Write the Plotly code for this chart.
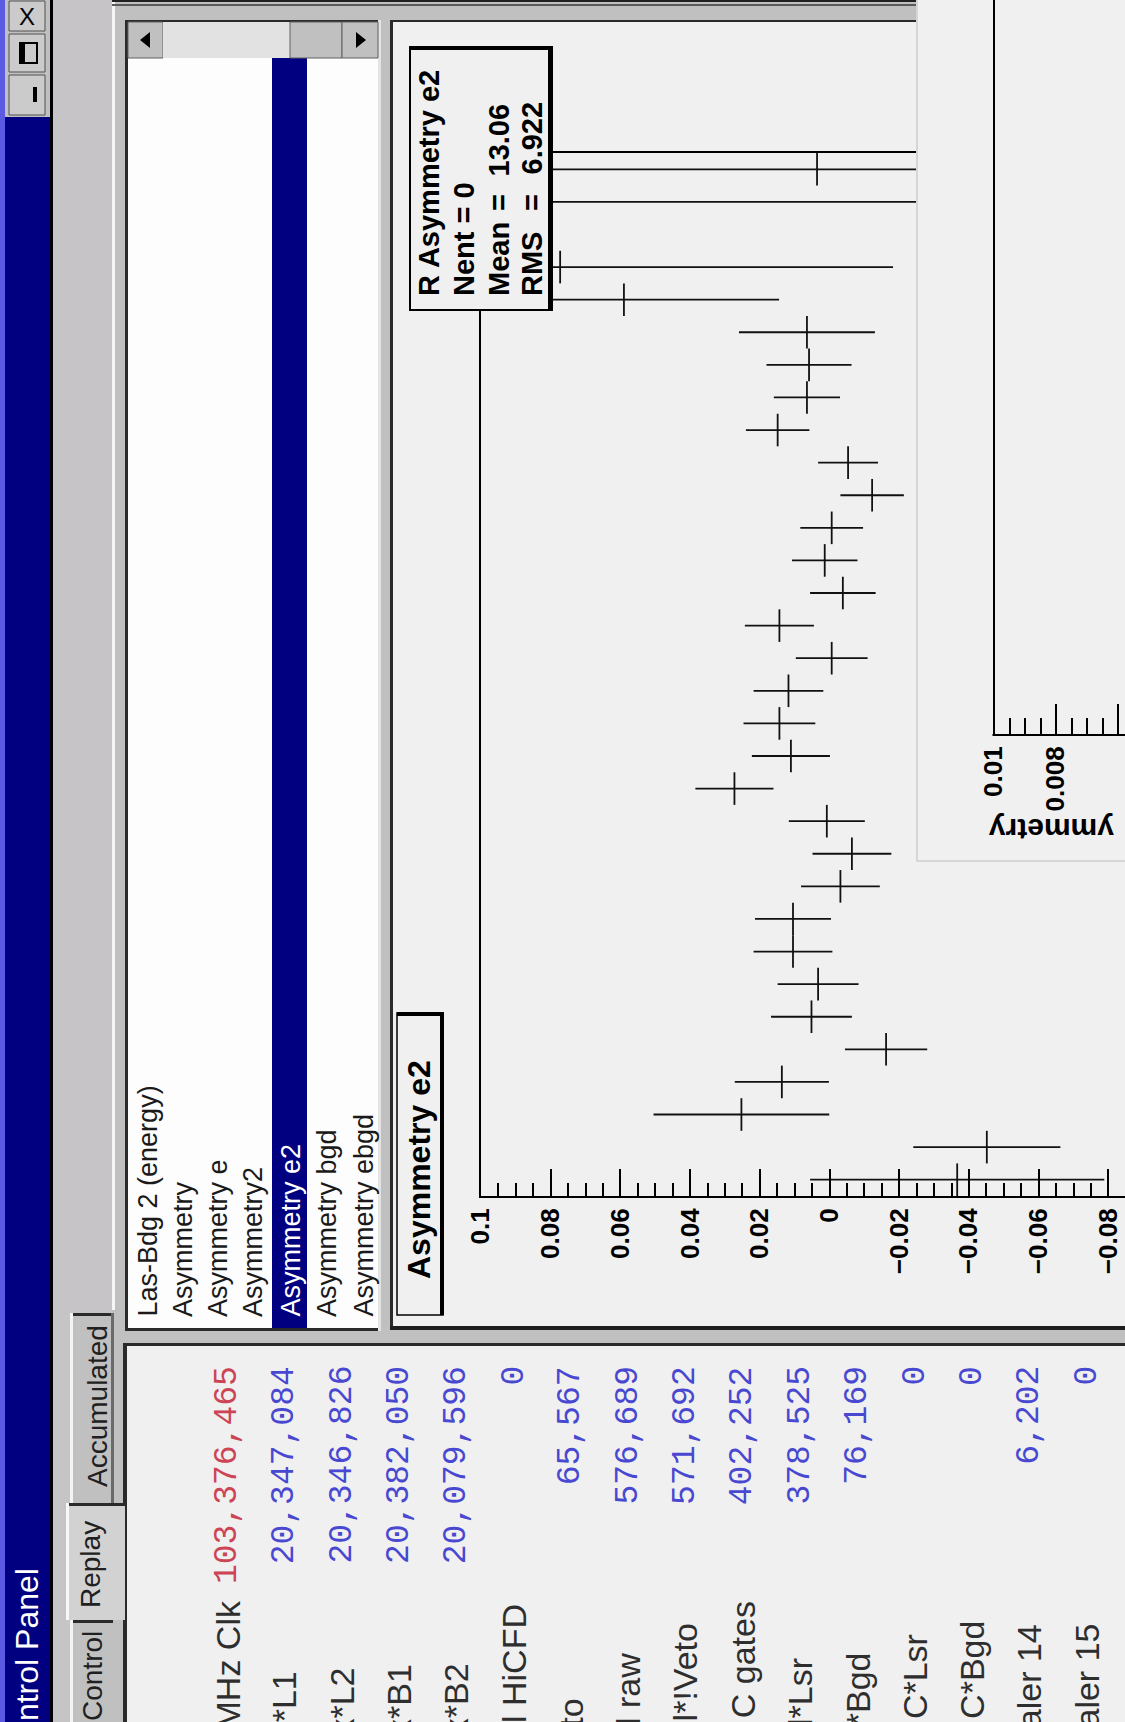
import plotly.graph_objects as go

# ---------------------------------------------------------------- data
bin_centers = [0.5, 1.5, 2.5, 3.5, 4.5, 5.5, 6.5, 7.5, 8.5, 9.5, 10.5, 11.5,
               12.5, 13.5, 14.5, 15.5, 16.5, 17.5, 18.5, 19.5, 20.5, 21.5,
               22.5, 23.5, 24.5, 25.5, 26.5, 27.5, 28.5, 29.5, 30.5, 31.5]
asymmetry = [-0.0366, -0.0451, 0.0253, 0.0137, -0.0162, 0.0052, 0.0033, 0.0105,
             0.0105, -0.0031, -0.0064, 0.0008, 0.0273, 0.0111, 0.0144, 0.0118,
             -0.0006, 0.0144, -0.0038, 0.0014, -0.0006, -0.0122, -0.0053, 0.0149,
             0.0065, 0.0059, 0.0065, 0.0590, 0.0773, None, 0.0850, 0.0036]
asymmetry_err = [0.0422, 0.0211, 0.0252, 0.0135, 0.0118, 0.0116, 0.0116, 0.0113,
                 0.0109, 0.0113, 0.0113, 0.0109, 0.0112, 0.0112, 0.0103, 0.0100,
                 0.0103, 0.0099, 0.0094, 0.0094, 0.0090, 0.0091, 0.0086, 0.0091,
                 0.0095, 0.0122, 0.0195, 0.0445, 0.0955, None, 0.1500, 0.1200]
bin_half_width = 0.5

hist_title = "Asymmetry e2"
stats_name = "R Asymmetry e2"
stats_nent = 0
stats_mean = 13.06
stats_rms = 6.922

panel2_tickvals = [0.01, 0.008, 0.006]
panel2_ticktext = ["0.01", "0.008", ""]
panel2_minor = [0.0095, 0.009, 0.0085, 0.0075, 0.007, 0.0065]
panel2_title = "ymmetry"

list_items = ["Las-Bdg 2 (energy)", "Asymmetry", "Asymmetry e", "Asymmetry2",
              "Asymmetry e2", "Asymmetry bgd", "Asymmetry ebgd"]
selected_item = "Asymmetry e2"
tab_names = ["Control", "Replay", "Accumulated"]
window_title = "Control Panel"

counter_labels = ["MHz Clk", "x*L1", "x*L2", "x*B1", "x*B2", "l HiCFD", "to",
                  "l raw", "l*!Veto", "C gates", "l*Lsr", "l*Bgd", "C*Lsr",
                  "C*Bgd", "aler 14", "aler 15"]
counter_values = [103376465, 20347084, 20346826, 20382050, 20079596, 0, 65567,
                  576689, 571692, 402252, 378525, 76169, 0, 0, 6202, 0]

# ---------------------------------------------------------------- geometry helpers
W, H = 1125, 1722
X_OFF, X_SPAN = 15.0, 1110.0      # horizontal placement of the paper in the page


def X(px):
    return (px - X_OFF) / X_SPAN


def Y(py):
    return 1 - py / H


shapes = []
annotations = []


def rect(x0, y0, x1, y1, fill, line=None, lw=0, layer="below"):
    shapes.append(dict(type="rect", xref="paper", yref="paper",
                       x0=X(x0), x1=X(x1), y0=Y(y1), y1=Y(y0),
                       fillcolor=fill, layer=layer,
                       line=dict(width=lw, color=line if line else fill)))


def tri(points, fill, layer="below"):
    path = "M " + " L ".join(f"{X(a)},{Y(b)}" for a, b in points) + " Z"
    shapes.append(dict(type="path", xref="paper", yref="paper", path=path,
                       fillcolor=fill, line=dict(width=0), layer=layer))


def text(s, x, y, size, color="#000000", xa="center", ya="middle", angle=-90,
         bold=False, family="Liberation Sans"):
    annotations.append(dict(text=s, x=X(x), y=Y(y), xref="paper", yref="paper",
                            showarrow=False, textangle=angle, xanchor=xa,
                            yanchor=ya, borderpad=0,
                            font=dict(family=family, size=size, color=color,
                                      weight="bold" if bold else "normal")))


CANVAS = "#f0f0f0"
GRAY = "#c0c0c0"
NAVY = "#000080"
DARK = "#2a2a2a"

# ---------------------------------------------------------------- window chrome
rect(0, 0, 5, H, "#5a5ae2")                 # light strip
rect(5, 0, 50, 117, GRAY)                   # buttons column
rect(5, 117, 50, H, NAVY)                   # title bar
rect(50, 0, 53, H, "#000000")
rect(53, 0, 112, H, "#c6c4c6")
rect(112, 0, 115, 1310, "#f6f6f6")
rect(112, 0, W, 2, "#202020")
rect(112, 4, W, 6, "#5a5a5a")

# window buttons
for (b0, b1) in [(1, 31), (34, 72), (75, 115)]:
    rect(9, b0, 45, b1, "#cbcbcb", "#505050", 1)
text("X", 27, 16, 24, "#000000", angle=0)
rect(20, 43, 37, 63, "rgba(0,0,0,0)", "#000000", 2)
rect(20, 43, 25, 63, "#000000")
rect(33, 87, 37, 102, "#000000")

text(window_title, 27, 1567, 32, "#ffffff", ya="top")

# ---------------------------------------------------------------- list box
rect(125, 20, 381, 1331, "#fdfdfd")
rect(125, 20, 128, 1331, DARK)
rect(125, 20, 381, 22, DARK)
rect(125, 1328, 381, 1331, DARK)
rect(378, 20, 381, 1331, "#e4e4e4")
rect(272, 58, 307, 1328, NAVY)              # selection highlight
# scrollbar
rect(128, 22, 163, 58, GRAY, "#606060", 1)
rect(163, 22, 290, 58, "#e2e2e2")
rect(290, 22, 342, 58, GRAY, "#606060", 1)
rect(342, 22, 378, 58, GRAY, "#606060", 1)
tri([(140, 40), (150, 32), (150, 48)], "#000000")
tri([(366, 40), (356, 32), (356, 48)], "#000000")

item_x = [147, 183, 218, 253, 290, 327, 363]
for name, xp in zip(list_items, item_x):
    col = "#ffffff" if name == selected_item else "#1a1a1a"
    text(name, xp, 1318, 27, col, ya="bottom")

# ---------------------------------------------------------------- canvas
rect(390, 20, W, 1330, CANVAS)
rect(390, 20, 393, 1330, DARK)
rect(390, 20, W, 22, DARK)
rect(390, 1326, W, 1330, "#1e1e1e")

# ---------------------------------------------------------------- lower counter panel
rect(125, 1343, W, H, CANVAS)
rect(125, 1343, W, 1346, DARK)
rect(123, 1343, 127, H, DARK)

# tabs
rect(72, 1313, 113, 1503, GRAY)
rect(72, 1313, 113, 1316, DARK)
rect(70, 1313, 73, 1503, "#f4f4f4")
rect(111, 1313, 114, 1503, "#6a6a6a")
rect(67, 1503, 125, 1620, "#d2d2d2")
rect(67, 1503, 125, 1506, DARK)
rect(66, 1503, 69, 1620, "#f8f8f8")
rect(72, 1620, 113, H, GRAY)
rect(72, 1620, 113, 1623, DARK)
rect(70, 1620, 73, H, "#f4f4f4")
text(tab_names[2], 97, 1406, 28, "#202020")
text(tab_names[1], 90, 1565, 28, "#202020")
text(tab_names[0], 92, 1630, 28, "#202020", ya="top")

label_end_y = [1600, 1670, 1667, 1663, 1662, 1603, 1698, 1652, 1622, 1600,
               1657, 1652, 1633, 1620, 1623, 1623]
row_x0, row_dx = 227, 57.3
for i, (lab, val) in enumerate(zip(counter_labels, counter_values)):
    xp = row_x0 + i * row_dx
    text(lab, xp, label_end_y[i], 34, "#2e2e2e", ya="top")
    col = "#cc4455" if i == 0 else "#4848d0"
    text(f"{val:,}", xp, 1365, 33, col, ya="top", family="Liberation Mono")

# ---------------------------------------------------------------- stats & title boxes (over plot)
rect(410, 47, 552, 310, CANVAS, "#000000", 2, layer="above")
rect(410, 46, 553, 50, "#000000", layer="above")
rect(548, 46, 553, 310, "#000000", layer="above")
text(stats_name, 429, 297, 29, bold=True, ya="bottom")
text(f"Nent = {stats_nent}", 464, 297, 29, bold=True, ya="bottom")
text("Mean", 499, 297, 29, bold=True, ya="bottom")
text("=", 499, 203, 29, bold=True)
text(f"{stats_mean:.2f}", 499, 103, 29, bold=True, ya="top")
text("RMS", 532, 297, 29, bold=True, ya="bottom")
text("=", 532, 203, 29, bold=True)
text(f"{stats_rms:.3f}", 532, 101, 29, bold=True, ya="top")

rect(397, 1013, 443, 1315, CANVAS, "#000000", 1.5, layer="above")
rect(397, 1012, 444, 1016, "#000000", layer="above")
rect(440, 1012, 444, 1315, "#000000", layer="above")
text(hist_title, 419, 1170, 32, bold=True)

# right pad borders and axis-line cover
rect(916, 0, 918, 862, "#d6d6d6", layer="above")
rect(916, 860, W, 862, "#d6d6d6", layer="above")
rect(918, 731, 992.5, 737, CANVAS, layer="above")
text(panel2_title, 988, 830, 30, bold=True, xa="left", angle=180)

# ---------------------------------------------------------------- figure
fig = go.Figure()
fig.add_trace(go.Scatter(
    x=asymmetry, y=bin_centers, mode="markers",
    marker=dict(size=1, color="#111111"),
    error_x=dict(type="data", array=asymmetry_err, visible=True, width=0,
                 thickness=1.8, color="#111111"),
    error_y=dict(type="constant", value=bin_half_width, visible=True, width=0,
                 thickness=1.8, color="#111111"),
    showlegend=False, hoverinfo="skip"))
fig.add_trace(go.Scatter(x=[None], y=[None], xaxis="x2", yaxis="y2",
                         mode="markers", showlegend=False, hoverinfo="skip"))

px_per_unit = 3486.0
x_left = 0.10005
x_right = 0.10005 - (W - 480.83) / px_per_unit

axis_font = dict(family="Liberation Sans", size=26, color="#000000", weight="bold")

fig.update_layout(
    width=W, height=H, margin=dict(l=0, r=0, t=0, b=0),
    paper_bgcolor=GRAY, plot_bgcolor=CANVAS, showlegend=False,
    shapes=shapes, annotations=annotations,
    xaxis=dict(domain=[X(480.83), 1], range=[x_left, x_right], anchor="y",
               showline=True, linecolor="#000000", linewidth=2, mirror=True,
               ticks="inside", ticklen=27, tickwidth=1.6, tickcolor="#000000",
               tick0=0, dtick=0.02, tickangle=-90, tickfont=axis_font,
               showgrid=False, zeroline=False,
               minor=dict(dtick=0.005, tick0=0, ticks="inside", ticklen=13,
                          tickwidth=1.6, tickcolor="#000000", showgrid=False)),
    yaxis=dict(domain=[Y(1196), Y(153)], range=[0, 32], anchor="x",
               showline=True, linecolor="#000000", linewidth=2,
               ticks="", showticklabels=False, showgrid=False, zeroline=False),
    xaxis2=dict(domain=[X(917), 1], range=[0.01 + 77 / 31000, 0.01 - 131 / 31000],
                anchor="y2", showline=True, linecolor="#000000", linewidth=2,
                tickmode="array", tickvals=panel2_tickvals, ticktext=panel2_ticktext,
                ticks="inside", ticklen=30, tickwidth=1.6, tickcolor="#000000",
                tickangle=-90, tickfont=axis_font, showgrid=False, zeroline=False,
                minor=dict(tickmode="array", tickvals=panel2_minor, ticks="inside",
                           ticklen=16, tickwidth=1.6, tickcolor="#000000",
                           showgrid=False)),
    yaxis2=dict(domain=[Y(734), 1], range=[0, 1], anchor="free", position=X(994),
                showline=True, linecolor="#000000", linewidth=2, ticks="",
                showticklabels=False, showgrid=False, zeroline=False),
)

fig.write_html(
    "out.html",
    config={"displayModeBar": False},
    post_script=("document.body.style.margin='0';"
                 "document.body.style.overflow='hidden';"))
